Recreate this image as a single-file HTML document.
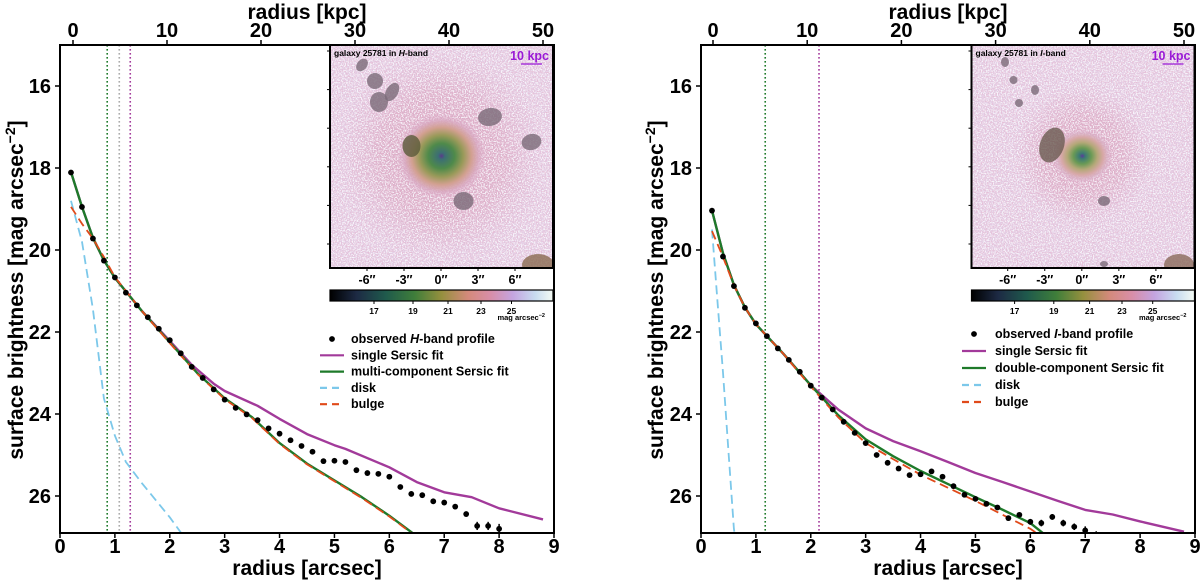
<!DOCTYPE html>
<html><head><meta charset="utf-8">
<style>
html,body{margin:0;padding:0;background:#fff;}
svg{display:block;font-family:"Liberation Sans","DejaVu Sans",sans-serif;font-weight:bold;}
</style></head>
<body>
<svg id="fig" width="1200" height="580" viewBox="0 0 1200 580" xmlns="http://www.w3.org/2000/svg">
<defs>
  <filter id="noise" x="0" y="0" width="100%" height="100%">
    <feTurbulence type="fractalNoise" baseFrequency="0.75" numOctaves="1" seed="3"/>
    <feColorMatrix type="matrix" values="0 0 0 0 0.96  0 0 0 0 0.96  0 0 0 0 1  0 0 0 9 -4.3"/>
  </filter>
  <filter id="noise2" x="0" y="0" width="100%" height="100%">
    <feTurbulence type="fractalNoise" baseFrequency="0.8" numOctaves="1" seed="11"/>
    <feColorMatrix type="matrix" values="0 0 0 0 0.8  0 0 0 0 0.45  0 0 0 0 0.6  0 0 0 9 -4.6"/>
  </filter>
  <radialGradient id="haloL">
    <stop offset="0" stop-color="#d9a2bc" stop-opacity="0.95"/>
    <stop offset="0.6" stop-color="#daa8c2" stop-opacity="0.7"/>
    <stop offset="1" stop-color="#dcb0cc" stop-opacity="0"/>
  </radialGradient>
  <radialGradient id="galL">
    <stop offset="0" stop-color="#5a3a8a"/>
    <stop offset="0.08" stop-color="#3c6f74"/>
    <stop offset="0.3" stop-color="#4f8a4a"/>
    <stop offset="0.5" stop-color="#9a9a5a"/>
    <stop offset="0.68" stop-color="#d2a090"/>
    <stop offset="0.85" stop-color="#d8a8c0" stop-opacity="0.8"/>
    <stop offset="1" stop-color="#dcb0cc" stop-opacity="0"/>
  </radialGradient>
  <radialGradient id="galR">
    <stop offset="0" stop-color="#5a3a9a"/>
    <stop offset="0.1" stop-color="#3c7a74"/>
    <stop offset="0.3" stop-color="#6a9a55"/>
    <stop offset="0.5" stop-color="#b4a878"/>
    <stop offset="0.7" stop-color="#d8a8a8"/>
    <stop offset="0.85" stop-color="#d8b0c4" stop-opacity="0.7"/>
    <stop offset="1" stop-color="#dcb0cc" stop-opacity="0"/>
  </radialGradient>
  <linearGradient id="cbar" x1="0" x2="1" y1="0" y2="0">
    <stop offset="0" stop-color="#000000"/>
    <stop offset="0.12" stop-color="#1d2a44"/>
    <stop offset="0.25" stop-color="#1f5a4c"/>
    <stop offset="0.38" stop-color="#3f7e3a"/>
    <stop offset="0.5" stop-color="#95903e"/>
    <stop offset="0.62" stop-color="#d48a7c"/>
    <stop offset="0.72" stop-color="#d88ea8"/>
    <stop offset="0.82" stop-color="#c4a4e0"/>
    <stop offset="0.92" stop-color="#c8dcf0"/>
    <stop offset="1" stop-color="#f4fbf4"/>
  </linearGradient>
  <clipPath id="clipL"><rect x="60" y="45" width="494" height="488"/></clipPath>
  <clipPath id="clipR"><rect x="701" y="45" width="494" height="488"/></clipPath>
  <clipPath id="clipIL"><rect x="330" y="45" width="223" height="223"/></clipPath>
  <clipPath id="clipIR"><rect x="971.5" y="45" width="223" height="223"/></clipPath>
</defs>
</svg>
<script>
// ---------- data ----------
const radiiObsH = [0.2,0.4,0.6,0.8,1.0,1.2,1.4,1.6,1.8,2.0,2.2,2.4,2.6,2.8,3.0,3.2,3.4,3.6,3.8,4.0,4.2,4.4,4.6,4.8,5.0,5.2,5.4,5.6,5.8,6.0,6.2,6.4,6.6,6.8,7.0,7.2,7.4,7.6,7.8,8.0];
const sbObsH = [18.11,18.95,19.72,20.26,20.67,21.04,21.35,21.64,21.92,22.2,22.52,22.85,23.12,23.4,23.65,23.85,24.01,24.15,24.35,24.48,24.64,24.78,24.92,25.15,25.14,25.17,25.37,25.44,25.46,25.53,25.78,25.95,25.98,26.13,26.16,26.26,26.44,26.73,26.73,26.8];
const errObsH = [0,0,0,0,0,0,0,0,0,0,0,0,0,0,0,0,0,0,0,0,0,0,0,0,0,0,0,0,0,0,0.03,0.03,0.03,0.04,0.04,0.05,0.06,0.1,0.1,0.12];
const radiiSingleH = [0.2,0.4,0.6,0.8,1.0,1.5,2.0,2.4,2.8,3.0,3.6,4.0,4.5,5.0,5.2,6.0,6.5,7.0,7.5,8.0,8.8];
const sbSingleH = [18.1,18.95,19.7,20.25,20.68,21.5,22.22,22.8,23.26,23.44,23.8,24.12,24.49,24.76,24.85,25.3,25.66,25.91,26.03,26.3,26.57];
const radiiMultiH = [0.2,0.4,0.6,0.8,1.0,1.5,2.0,2.5,3.0,3.5,4.0,4.5,5.0,5.5,6.0,6.5];
const sbMultiH = [18.1,18.95,19.7,20.25,20.68,21.5,22.25,23.0,23.62,24.08,24.71,25.21,25.62,26.03,26.48,26.98];
const radiiBulgeH = [0.2,0.4,0.6,0.8,1.0,1.5,2.0,2.5,3.0,3.5,4.0,4.5,5.0,5.5,6.0,6.5];
const sbBulgeH = [18.95,19.36,19.72,20.17,20.66,21.5,22.27,23.02,23.64,24.1,24.73,25.23,25.64,26.05,26.5,27.0];
const radiiDiskH = [0.2,0.4,0.6,0.8,1.0,1.2,1.5,2.0,2.25];
const sbDiskH = [18.8,19.8,21.44,23.62,24.53,25.17,25.7,26.52,26.98];
const vlinesH = [0.86,1.08,1.28];

const radiiObsI = [0.2,0.4,0.6,0.8,1.0,1.2,1.4,1.6,1.8,2.0,2.2,2.4,2.6,2.8,3.0,3.2,3.4,3.6,3.8,4.0,4.2,4.4,4.6,4.8,5.0,5.2,5.4,5.6,5.8,6.0,6.2,6.4,6.6,6.8,7.0,7.2];
const sbObsI = [19.04,20.16,20.88,21.41,21.79,22.1,22.4,22.68,22.97,23.31,23.6,23.89,24.19,24.46,24.71,25.0,25.19,25.33,25.49,25.47,25.4,25.53,25.76,25.97,26.07,26.19,26.28,26.54,26.46,26.63,26.66,26.51,26.66,26.75,26.84,26.98];
const errObsI = [0,0,0,0,0,0,0,0,0,0,0,0,0,0,0,0,0,0,0,0,0,0,0,0,0,0,0.03,0.05,0.06,0.07,0.08,0.07,0.08,0.08,0.1,0.12];
const radiiSingleI = [0.2,0.4,0.6,0.8,1.0,1.5,2.0,2.5,3.0,3.5,4.0,4.5,5.0,5.5,6.0,6.5,7.0,7.5,8.0,8.8];
const sbSingleI = [19.04,20.08,20.85,21.4,21.81,22.53,23.3,23.89,24.35,24.66,24.91,25.17,25.44,25.66,25.89,26.12,26.34,26.45,26.62,26.87];
const radiiMultiI = [0.2,0.4,0.6,0.8,1.0,1.5,2.0,2.5,3.0,3.5,4.0,4.5,5.0,5.5,6.0,6.3];
const sbMultiI = [19.04,20.08,20.85,21.4,21.81,22.53,23.3,24.03,24.62,25.03,25.39,25.71,26.03,26.34,26.66,26.98];
const radiiBulgeI = [0.2,0.4,0.6,0.8,1.0,1.5,2.0,2.5,3.0,3.5,4.0,4.5,5.0,5.5,6.0,6.2];
const sbBulgeI = [19.54,20.17,20.86,21.4,21.81,22.53,23.33,24.08,24.71,25.1,25.48,25.8,26.12,26.46,26.8,26.98];
const radiiDiskI = [0.2,0.3,0.4,0.5,0.6,0.62];
const sbDiskI = [19.5,21.26,22.99,24.89,26.8,26.98];
const vlinesI = [1.17,2.15];

const xTicks = [0,1,2,3,4,5,6,7,8,9];
const yTicks = [16,18,20,22,24,26];
const kpcTicks = [0,10,20,30,40,50];
const insetTicks = ["-6″","-3″","0″","3″","6″"];
const cbarTicks = [17,19,21,23,25];

// ---------- helpers ----------
const NS = "http://www.w3.org/2000/svg";
const svg = document.getElementById('fig');
function mk(tag, attrs, parent){
  const e = document.createElementNS(NS, tag);
  for (const k in attrs) e.setAttribute(k, attrs[k]);
  (parent||svg).appendChild(e);
  return e;
}
function txt(s, attrs, parent){ const e = mk('text', attrs, parent); e.textContent = s; return e; }

function panel(P){
  const g = mk('g', {});
  
  
  const X0 = P.x0, X1 = P.x0 + 494, Y0 = 45, Y1 = 533;
  const sx = r => X0 + r * (494/9);
  const sy = m => Y0 + (m - 15) * 41;
  const kx = k => P.k0 + k * (P.k50 - P.k0) / 50;

  P.vlines.forEach((v, i) => {
    const l = mk('line', {x1:sx(v), x2:sx(v), y1:Y0, y2:Y1, stroke:P.vcolors[i], 'stroke-width':1.6, 'stroke-dasharray':'1.6,2.4'}, g);
    
    
  });

  const data = mk('g', {'clip-path':`url(#${P.clip})`}, g);
  function line(xs, ys, color, w, dash, name){
    const d = xs.map((x,i)=>(i?'L':'M')+sx(x).toFixed(1)+','+sy(ys[i]).toFixed(1)).join(' ');
    const p = mk('path', {d, fill:'none', stroke:color, 'stroke-width':w, 'stroke-dasharray':dash||'none', 'stroke-linejoin':'round'}, data);
    
    
  }
  line(P.disk[0], P.disk[1], '#7cc8ea', 1.8, '9,5', 'disk-line');
  line(P.single[0], P.single[1], '#a23a9a', 2.4, null, 'single-sersic-line');
  line(P.multi[0], P.multi[1], '#1e7a2a', 2.4, null, 'multi-sersic-line');
  line(P.bulge[0], P.bulge[1], '#e04a1a', 1.8, '9,5', 'bulge-line');
  P.obs[0].forEach((r, i) => {
    const m = P.obs[1][i], e = P.obs[2][i];
    if (e > 0) {
      const eb = mk('line', {x1:sx(r), x2:sx(r), y1:sy(m-e), y2:sy(m+e), stroke:'#000', 'stroke-width':1.5}, data);
      
      
    }
    const c = mk('circle', {cx:sx(r), cy:sy(m), r:2.9, fill:'#000'}, data);
    
    
  });

  // inset image
  const ins = mk('g', {'clip-path':`url(#${P.iclip})`}, g);
  
  
  const ix = P.ix, iy = 45;
  mk('rect', {x:ix, y:iy, width:223, height:223, fill:'#e4cde4'}, ins);
  mk('circle', {cx:P.gc[0], cy:P.gc[1], r:P.halo, fill:'url(#haloL)'}, ins);
  mk('rect', {x:ix, y:iy, width:223, height:223, filter:'url(#noise)', opacity:0.85}, ins);
  mk('rect', {x:ix, y:iy, width:223, height:223, filter:'url(#noise2)', opacity:0.5}, ins);
  mk('ellipse', {cx:P.gc[0], cy:P.gc[1], rx:P.gr[0], ry:P.gr[1], fill:`url(#${P.grad})`}, ins);
  P.masks.forEach(mk_ => {
    const el = mk('ellipse', {cx:mk_[0], cy:mk_[1], rx:mk_[2], ry:mk_[3], transform:`rotate(${mk_[4]} ${mk_[0]} ${mk_[1]})`, fill:mk_[5]||'#7a6a78', opacity:0.8}, ins);
    
    
  });
  mk('rect', {x:ix, y:iy, width:223, height:223, fill:'none', stroke:'#000', 'stroke-width':2}, g);
  const tt = txt(P.title[0], {x:ix+4, y:iy+11, 'font-size':8.5, fill:'#000'}, g);
  
  const ts = document.createElementNS(NS,'tspan'); ts.setAttribute('font-style','italic'); ts.textContent = P.title[1]; tt.appendChild(ts);
  const ts2 = document.createElementNS(NS,'tspan'); ts2.textContent = '-band'; tt.appendChild(ts2);
  
  const sbl = txt('10 kpc', {x:ix+219, y:iy+15, 'font-size':12.5, fill:'#9a1ad6', 'text-anchor':'end'}, g);
  
  
  mk('line', {x1:ix+191, x2:ix+212, y1:iy+19, y2:iy+19, stroke:'#9a1ad6', 'stroke-width':1.2}, g);
  for (let k=0;k<6;k++) mk('line', {x1:ix-3, x2:ix, y1:iy+6+k*38.6, y2:iy+6+k*38.6, stroke:'#000','stroke-width':1}, g);
  insetTicks.forEach((t,i)=>{
    const tx = P.itx0 + i*P.itdx;
    mk('line', {x1:tx, x2:tx, y1:268, y2:271, stroke:'#000','stroke-width':1}, g);
    const e = txt(t, {x:tx, y:284, 'font-size':12.5, 'text-anchor':'middle'}, g);
     
  });
  const cb = mk('rect', {x:ix, y:290, width:223, height:11, fill:'url(#cbar)', stroke:'#000', 'stroke-width':1.2}, g);
   
  cbarTicks.forEach((t,i)=>{
    const tx = P.cbx[i];
    mk('line', {x1:tx, x2:tx, y1:301, y2:304, stroke:'#000','stroke-width':1}, g);
    const e = txt(String(t), {x:tx, y:314, 'font-size':8.5, 'text-anchor':'middle'}, g);
     
  });
  const cu = txt('mag arcsec', {x:ix+215, y:320, 'font-size':7.5, 'text-anchor':'end'}, g);
  const sup = document.createElementNS(NS,'tspan'); sup.setAttribute('dy','-3'); sup.setAttribute('font-size','5.5'); sup.textContent='−2'; cu.appendChild(sup);
   

  // legend
  const lg = mk('g', {}, g);
   
  const lx = P.lx, ly = P.ly, ldy = P.ldy;
  mk('circle', {cx:lx+12, cy:ly-4, r:2.9, fill:'#000'}, lg);
  const l1 = txt('observed ', {x:lx+P.ltx, y:ly, 'font-size':12.5}, lg);
  const it = document.createElementNS(NS,'tspan'); it.setAttribute('font-style','italic'); it.textContent=P.title[1]; l1.appendChild(it);
  const rst = document.createElementNS(NS,'tspan'); rst.textContent='-band profile'; l1.appendChild(rst);
  const rows = [['#a23a9a',null,'single Sersic fit'],['#1e7a2a',null,P.multiLabel],['#7cc8ea','7,5','disk'],['#e04a1a','7,5','bulge']];
  rows.forEach((r,i)=>{
    const y = ly + (i+1)*ldy - 4;
    mk('line', {x1:lx, x2:lx+24, y1:y, y2:y, stroke:r[0], 'stroke-width':2.2, 'stroke-dasharray':r[1]||'none'}, lg);
    const e = txt(r[2], {x:lx+P.ltx, y:y+4, 'font-size':12.5}, lg);
     
  });

  mk('rect', {x:X0, y:Y0, width:494, height:Y1-Y0, fill:'none', stroke:'#000', 'stroke-width':2}, g);
  xTicks.forEach(t=>{
    mk('line', {x1:sx(t), x2:sx(t), y1:Y1, y2:Y1+5, stroke:'#000','stroke-width':1.5}, g);
    const e = txt(String(t), {x:sx(t), y:553, 'font-size':20, 'text-anchor':'middle'}, g);
     
  });
  yTicks.forEach(t=>{
    mk('line', {x1:X0-5, x2:X0, y1:sy(t), y2:sy(t), stroke:'#000','stroke-width':1.5}, g);
    const e = txt(String(t), {x:X0-9, y:sy(t)+7, 'font-size':20, 'text-anchor':'end'}, g);
     
  });
  kpcTicks.forEach(t=>{
    mk('line', {x1:kx(t), x2:kx(t), y1:Y0-5, y2:Y0, stroke:'#000','stroke-width':1.5}, g);
    const e = txt(String(t), {x:kx(t), y:37, 'font-size':20, 'text-anchor':'middle'}, g);
     
  });
  const xt = txt('radius [arcsec]', {x:X0+247, y:575, 'font-size':21, 'text-anchor':'middle'}, g);
   
  const kt = txt('radius [kpc]', {x:X0+247, y:19, 'font-size':21, 'text-anchor':'middle'}, g);
   
  const yt = txt('surface brightness [mag arcsec', {x:0, y:0, 'font-size':21, 'text-anchor':'middle', transform:`translate(${P.ytx},290) rotate(-90)`}, g);
  const ysup = document.createElementNS(NS,'tspan'); ysup.setAttribute('dy','-8'); ysup.setAttribute('font-size','14'); ysup.textContent='−2'; yt.appendChild(ysup);
  const yend = document.createElementNS(NS,'tspan'); yend.setAttribute('dy','8'); yend.textContent=']'; yt.appendChild(yend);
   
}

panel({name:'h-band-panel', x0:60, k0:73, k50:543, clip:'clipL', iclip:'clipIL', ix:330,
  obs:[radiiObsH,sbObsH,errObsH], single:[radiiSingleH,sbSingleH], multi:[radiiMultiH,sbMultiH],
  bulge:[radiiBulgeH,sbBulgeH], disk:[radiiDiskH,sbDiskH], vlines:vlinesH, vcolors:['#1e7a2a','#aaaaaa','#a23a9a'],
  title:['galaxy 25781 in ','H'], gc:[441.5,156], gr:[44,42], halo:105, grad:'galL',
  masks:[[411.5,146,9,11,0,'#5a5a3a'],[463.5,201,10,9,0],[490,117,12,9,-10],[531.5,142,10,8,-15],[379,102,9,10,0],[375,81,8,8,0],[392,92,6,10,30],[362,65,5,7,40],[538,265,16,11,0,'#8a6a50']],
  itx0:367,itdx:37, cbx:[374,413,448,481,511.5], lx:320, ly:343, ldy:16.3, ltx:31,
  multiLabel:'multi-component Sersic fit', ytx:23});

panel({name:'i-band-panel', x0:701, k0:713, k50:1184, clip:'clipR', iclip:'clipIR', ix:971.5,
  obs:[radiiObsI,sbObsI,errObsI], single:[radiiSingleI,sbSingleI], multi:[radiiMultiI,sbMultiI],
  bulge:[radiiBulgeI,sbBulgeI], disk:[radiiDiskI,sbDiskI], vlines:vlinesI, vcolors:['#1e7a2a','#a23a9a'],
  title:['galaxy 25781 in ','I'], gc:[1082.3,156], gr:[30,27], halo:70, grad:'galR',
  masks:[[1052,145,12,18,20,'#6a5a50'],[1104,201,6,5,0],[1005,62,4,5,0],[1013.5,80,4,4,0],[1035,90,4,5,0],[1019,103,4,4,0],[1179,265,15,11,0,'#8a6a5a'],[1104,264,4,3,0]],
  itx0:1007.7,itdx:37.05, cbx:[1014.6,1053.8,1089.6,1122,1152.7], lx:962, ly:338, ldy:17, ltx:33,
  multiLabel:'double-component Sersic fit', ytx:663});
</script>
</body></html>
